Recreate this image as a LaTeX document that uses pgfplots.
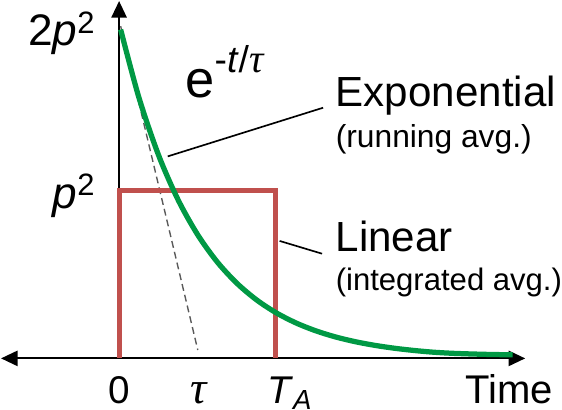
\documentclass[border=0pt]{standalone}
\usepackage{pgfplots}
\pgfplotsset{compat=1.18}
\usepackage{fontspec}
\setmainfont{Liberation Sans}
\newfontfamily\serifit{Liberation Serif}
\usetikzlibrary{arrows.meta}
\definecolor{expgreen}{RGB}{0,153,68}
\definecolor{linred}{RGB}{192,80,77}
\begin{document}
\begin{tikzpicture}
\begin{axis}[
  scale only axis,
  width=421.5pt, height=308.25pt,
  xmin=-1.618, xmax=5.776,
  ymin=-0.3457, ymax=2.191,
  hide axis, clip=false,
]
% axes
\addplot[black, line width=1.5pt, {Triangle[length=12pt,width=11pt]}-{Triangle[length=12pt,width=11pt]}] coordinates {(-1.50,0) (5.16,0)};
\addplot[black, line width=1.5pt, -{Triangle[length=12pt,width=11pt]}] coordinates {(0,0) (0,2.13)};
% tangent
\addplot[gray!70!black, line width=1pt, dash pattern=on 5pt off 3pt] coordinates {(0.02,1.98) (1.0,0.05)};
% linear (integrated avg.)
\addplot[linred, line width=3.6pt, line join=miter] coordinates {(0,0) (0,1) (1.99,1) (1.99,0)};
% exponential (running avg.)
\addplot[expgreen, line width=3.8pt, smooth] coordinates {
(0.02,1.96) (0.25,1.5576) (0.5,1.2131) (0.75,0.9447) (1,0.7358) (1.25,0.5730)
(1.5,0.4463) (1.75,0.3475) (2,0.2707) (2.25,0.2108) (2.5,0.1642) (2.75,0.1278)
(3,0.0996) (3.25,0.0776) (3.5,0.0604) (3.75,0.0470) (4,0.0366) (4.25,0.0300)
(4.5,0.0260) (4.75,0.0230) (5.0,0.0215)};
% callout lines
\addplot[black, line width=1.2pt] coordinates {(0.618,1.204) (2.592,1.494)};
\addplot[black, line width=1.2pt] coordinates {(2.04,0.70) (2.579,0.624)};
% labels
\node[anchor=base east, font=\fontsize{32}{32}\selectfont, inner sep=0pt] at (axis cs:-0.30,1.864) {2\textit{p}\textsuperscript{2}};
\node[anchor=base east, font=\fontsize{32}{32}\selectfont, inner sep=0pt] at (axis cs:-0.30,0.895) {\textit{p}\textsuperscript{2}};
\node[anchor=base west, font=\fontsize{38}{38}\selectfont, inner sep=0pt] at (axis cs:0.84,1.556) {e\raisebox{18pt}{\fontsize{27}{27}\selectfont -\textit{t}/{\serifit\itshape\fontsize{29}{29}\selectfont τ}}};
\node[anchor=base west, font=\fontsize{30.5}{30}\selectfont, inner sep=0pt] at (axis cs:2.75,1.500) {Exponential};
\node[anchor=base west, font=\fontsize{23}{23}\selectfont, inner sep=0pt] at (axis cs:2.75,1.259) {(running avg.)};
\node[anchor=base west, font=\fontsize{30.5}{30}\selectfont, inner sep=0pt] at (axis cs:2.75,0.636) {Linear};
\node[anchor=base west, font=\fontsize{22.5}{23}\selectfont, inner sep=0pt] at (axis cs:2.75,0.407) {(integrated avg.)};
\node[anchor=base, font=\fontsize{28}{28}\selectfont, inner sep=0pt] at (axis cs:0,-0.270) {0};
\node[anchor=base, font=\serifit\itshape\fontsize{33}{33}\selectfont, inner sep=0pt] at (axis cs:1.01,-0.270) {τ};
\node[anchor=base west, font=\fontsize{28}{28}\selectfont, inner sep=0pt] at (axis cs:1.88,-0.270) {\textit{T}\raisebox{-4.5pt}{\fontsize{20}{20}\selectfont\textit{A}}};
\node[anchor=base west, font=\fontsize{29}{29}\selectfont, inner sep=0pt] at (axis cs:4.40,-0.270) {Time};
\end{axis}
\end{tikzpicture}
\end{document}
